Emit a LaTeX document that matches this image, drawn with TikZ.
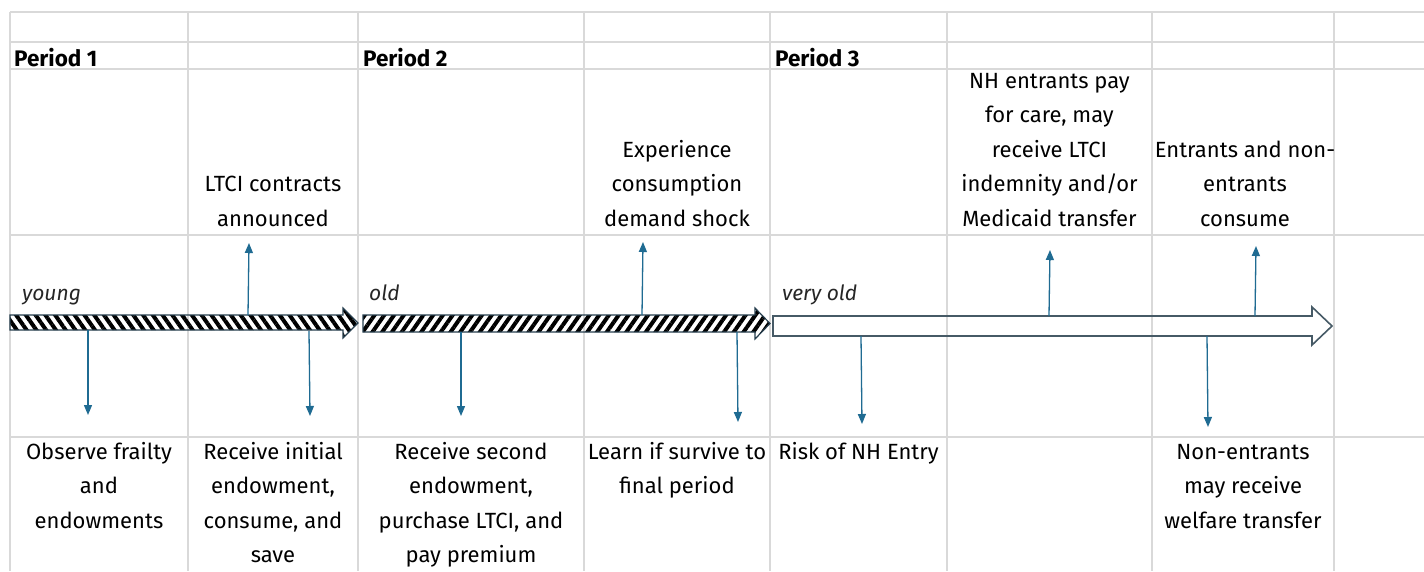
\documentclass[tikz,border=0pt]{standalone}
\usepackage{fontspec}
\setmainfont{Fira Sans}
\usetikzlibrary{arrows.meta,patterns.meta}

\definecolor{gridgray}{RGB}{217,217,217}
\definecolor{evblue}{RGB}{31,107,146}
\definecolor{tledge}{RGB}{38,62,78}
\definecolor{vedge}{RGB}{70,90,102}
\newcommand{\firstln}{\rule{0pt}{18pt}}

\begin{document}
\begin{tikzpicture}[x=1pt,y=-1pt,
  gridline/.style={draw=gridgray,line width=1.3pt},
  txt/.style={font=\fontsize{22}{34.5}\selectfont,align=center,anchor=north,inner sep=0pt,text=black},
  period/.style={font=\fontsize{22.5}{24}\selectfont\bfseries,anchor=base west,inner sep=0pt},
  age/.style={font=\fontsize{21}{24}\selectfont\itshape,anchor=base west,inner sep=0pt,text=black!85},
  tlone/.style={draw=tledge,line width=1.2pt,pattern={Lines[angle=-55,distance=8pt,line width=4pt]},pattern color=black},
  tltwo/.style={draw=tledge,line width=1.2pt,pattern={Lines[angle=55,distance=8pt,line width=4pt]},pattern color=black},
  tlthree/.style={draw=vedge,line width=1.6pt},
  event/.style={draw=evblue,line width=1.3pt,-{Triangle[length=10pt,width=8pt]}}
]
\useasboundingbox (0,0) rectangle (1424,571);
\fill[white] (0,0) rectangle (1424,571);

% spreadsheet grid
\foreach \x in {10,188,358,584,770,947,1152,1334}
  \draw[gridline] (\x,12) -- (\x,571);
\foreach \y in {12,42,69,235,437}
  \draw[gridline] (10,\y) -- (1424,\y);

% period headers
\node[period] (p1) at (14,66.5) {Period 1};
\node[period] (p2) at (363,66.5) {Period 2};
\node[period] (p3) at (775,66.5) {Period 3};

% timeline arrows
\draw[tlone] (10,315) -- (343,315) -- (343,308) -- (358,323) -- (343,338) -- (343,330) -- (10,330) -- cycle;
\draw[tltwo] (363,315) -- (755,315) -- (755,308) -- (770,323.5) -- (755,339) -- (755,332) -- (363,332) -- cycle;
\draw[tlthree] (773,316) -- (1312,316) -- (1312,307) -- (1332,326) -- (1312,345) -- (1312,336) -- (773,336) -- cycle;

% age labels
\node[age] (young) at (22,300) {young};
\node[age] (old) at (369,300) {old};
\node[age] (vold) at (782,300) {very old};

% upper texts
\node[txt] (ltci) at (273,173.5) {\firstln LTCI contracts\\announced};
\node[txt] (exper) at (677,139) {\firstln Experience\\consumption\\demand shock};
\node[txt] (nhpay) at (1049.5,70) {\firstln NH entrants pay\\for care, may\\receive LTCI\\indemnity and/or\\Medicaid transfer};
\node[txt] (entr) at (1245,139) {\firstln Entrants and non-\\entrants\\consume};

% lower texts
\node[txt] (obs) at (99,441) {\firstln Observe frailty\\and\\endowments};
\node[txt] (recinit) at (273,441) {\firstln Receive initial\\endowment,\\consume, and\\save};
\node[txt] (recsec) at (471,441) {\firstln Receive second\\endowment,\\purchase LTCI, and\\pay premium};
\node[txt] (learn) at (677,441) {\firstln Learn if survive to\\final period};
\node[txt] (risk) at (858.5,441) {\firstln Risk of NH Entry};
\node[txt] (nonent) at (1243,441) {\firstln Non-entrants\\may receive\\welfare transfer};

% event arrow ends
\coordinate (d1s) at (88,330);   \coordinate (d1e) at (88,415);
\coordinate (u1s) at (248,315);  \coordinate (u1e) at (249,243);
\coordinate (d2s) at (309,331);  \coordinate (d2e) at (310,416);
\coordinate (d3s) at (461,332);  \coordinate (d3e) at (461,416);
\coordinate (u2s) at (642,315);  \coordinate (u2e) at (643,242);
\coordinate (d4s) at (737,332);  \coordinate (d4e) at (738,422);
\coordinate (d5s) at (861,336);  \coordinate (d5e) at (862,424);
\coordinate (u3s) at (1049,316); \coordinate (u3e) at (1050,250);
\coordinate (u4s) at (1255,316); \coordinate (u4e) at (1256,246);
\coordinate (d6s) at (1207,336); \coordinate (d6e) at (1208,427);

\foreach \a in {d1,u1,d2,d3,u2,d4,d5,u3,u4,d6}
  \draw[event] (\a s) -- (\a e);
\end{tikzpicture}
\end{document}
